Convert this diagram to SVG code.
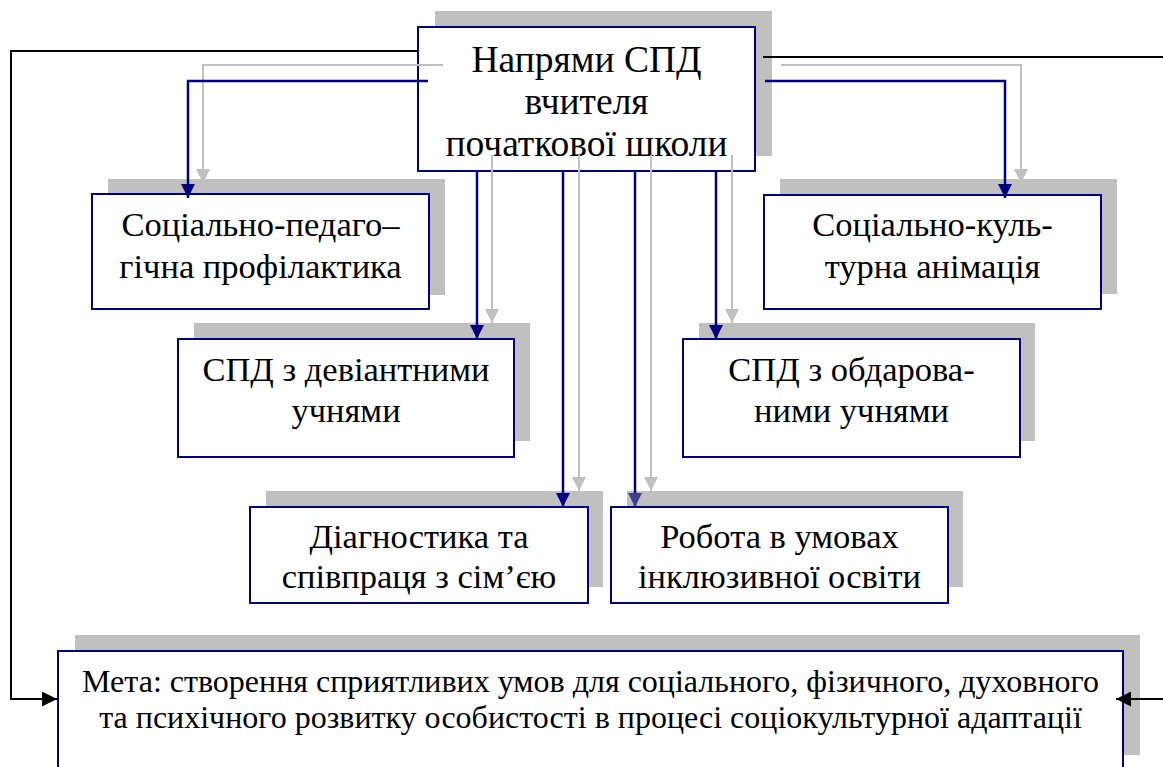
<svg xmlns="http://www.w3.org/2000/svg" width="1163" height="767" viewBox="0 0 1163 767">
<defs>
<style>
.sh{fill:#c0c0c0}
.bx{fill:#fff;stroke:#000080;stroke-width:2}
text{font-family:'Liberation Serif','DejaVu Serif',serif;fill:#000;text-anchor:middle}
.t1{font-size:37.5px}
.t2{font-size:34.5px}
.t3{font-size:32px}
.bl{fill:none;stroke:#000080;stroke-width:2.5}
.gr{fill:none;stroke:#c0c0c0;stroke-width:2}
.bk{fill:none;stroke:#000;stroke-width:2}
</style>
<marker id="ab" markerWidth="14" markerHeight="14" viewBox="0 0 14 14" refX="14" refY="7" orient="auto" markerUnits="userSpaceOnUse"><path d="M0,0 L14,7 L0,14 Z" fill="#000080"/></marker>
<marker id="ab2" markerWidth="14" markerHeight="14" viewBox="0 0 14 14" refX="14" refY="7" orient="auto" markerUnits="userSpaceOnUse"><path d="M0,0 L14,7 L0,14 Z" fill="#40408a"/></marker>
<marker id="ag" markerWidth="14" markerHeight="14" viewBox="0 0 14 14" refX="14" refY="7" orient="auto" markerUnits="userSpaceOnUse"><path d="M0,0 L14,7 L0,14 Z" fill="#c0c0c0"/></marker>
<marker id="ak" markerWidth="15" markerHeight="15" viewBox="0 0 15 15" refX="15" refY="7.5" orient="auto" markerUnits="userSpaceOnUse"><path d="M0,0 L15,7.5 L0,15 Z" fill="#000"/></marker>
</defs>

<g id="goal">
<rect class="sh" x="75" y="635" width="1065" height="120"/>
<rect class="bx" x="58" y="651" width="1065" height="125"/>
<text class="t3" x="590.5" y="692">Мета: створення сприятливих умов для соціального, фізичного, духовного</text>
<text class="t3" x="590.5" y="728">та психічного розвитку особистості в процесі соціокультурної адаптації</text>
</g>

<g id="prof">
<rect class="sh" x="108" y="179" width="337" height="116"/>
<rect class="bx" x="92" y="194" width="337" height="115"/>
<text class="t2" x="260.5" y="236">Соціально-педаго–</text>
<text class="t2" x="260.5" y="278">гічна профілактика</text>
</g>

<g id="anim">
<rect class="sh" x="780" y="179" width="337" height="115"/>
<rect class="bx" x="764" y="195" width="337" height="114"/>
<text class="t2" x="932.5" y="236">Соціально-куль-</text>
<text class="t2" x="932.5" y="278">турна анімація</text>
</g>

<g id="deviant">
<rect class="sh" x="194" y="323" width="336" height="118"/>
<rect class="bx" x="178" y="339" width="336" height="118"/>
<text class="t2" x="346" y="381">СПД з девіантними</text>
<text class="t2" x="346" y="422">учнями</text>
</g>

<g id="gifted">
<rect class="sh" x="699" y="323" width="336" height="118"/>
<rect class="bx" x="683" y="339" width="337" height="118"/>
<text class="t2" x="851.5" y="381">СПД з обдарова-</text>
<text class="t2" x="851.5" y="422">ними учнями</text>
</g>

<g id="diag">
<rect class="sh" x="266" y="491" width="337" height="96"/>
<rect class="bx" x="250" y="507" width="338" height="96"/>
<text class="t2" x="419" y="548">Діагностика та</text>
<text class="t2" x="419" y="588">співпраця з сім’єю</text>
</g>

<g id="incl">
<rect class="sh" x="627" y="491" width="336" height="96"/>
<rect class="bx" x="611" y="507" width="337" height="96"/>
<text class="t2" x="779.5" y="548">Робота в умовах</text>
<text class="t2" x="779.5" y="588">інклюзивної освіти</text>
</g>

<g id="main">
<rect class="sh" x="435" y="11" width="337" height="145"/>
<rect class="bx" x="418" y="27" width="337" height="144"/>
<text class="t1" x="586.5" y="72">Напрями СПД</text>
<text class="t1" x="586.5" y="114">вчителя</text>
<text class="t1" x="586.5" y="156">початкової школи</text>
</g>

<g id="connectors">
<path class="bk" d="M418,51 H11 V699 H57" marker-end="url(#ak)"/>
<path class="bk" d="M763,57 H1163"/>
<path class="bk" d="M1163,699 H1116" marker-end="url(#ak)"/>
<path class="gr" d="M443,65 H203 V183" marker-end="url(#ag)"/>
<path class="bl" d="M428,81 H188 V198" marker-end="url(#ab)"/>
<path class="gr" d="M781,65 H1021 V183" marker-end="url(#ag)"/>
<path class="bl" d="M765,81 H1005 V198" marker-end="url(#ab)"/>
<path class="bl" d="M477,171 V339" marker-end="url(#ab)"/>
<path class="gr" d="M492,155 V323" marker-end="url(#ag)"/>
<path class="bl" d="M716,171 V339" marker-end="url(#ab)"/>
<path class="gr" d="M732,155 V323" marker-end="url(#ag)"/>
<path class="bl" d="M563,171 V507" marker-end="url(#ab)"/>
<path class="gr" d="M579,155 V491" marker-end="url(#ag)"/>
<path class="bl" d="M635,171 V507" marker-end="url(#ab2)"/>
<path class="gr" d="M651,155 V491" marker-end="url(#ag)"/>
</g>
</svg>
